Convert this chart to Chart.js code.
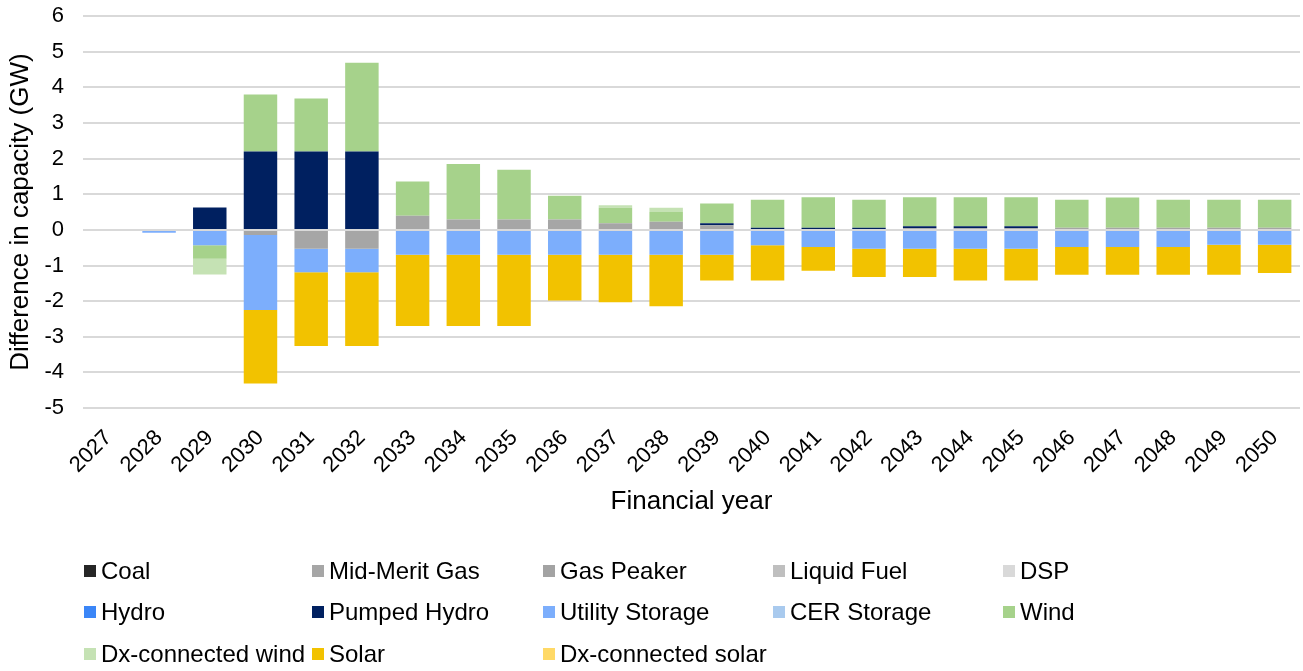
<!DOCTYPE html>
<html>
<head>
<meta charset="utf-8">
<script src="https://cdn.jsdelivr.net/npm/chart.js@4/dist/chart.umd.min.js"></script>
<style>
  body { margin: 0; background: #fff; font-family: "Liberation Sans", Arial, sans-serif; }
  #wrap { position: relative; width: 1303px; height: 671px; }
  #chart { position: absolute; left: 0; top: 0; }
  #legend {
    position: absolute; left: 84px; top: 550px;
    display: grid;
    grid-template-columns: 228px 231px 230px 230px 230px;
    grid-auto-rows: 41.5px;
  }
  .item { display: flex; align-items: center; font-size: 24px; color: #000; white-space: nowrap; }
  .box { width: 12px; height: 12px; margin-right: 5px; flex: none; }
</style>
</head>
<body>
<div id="wrap">
  <canvas id="chart" width="1303" height="671"></canvas>
  <div id="legend"></div>
</div>
<script>
// financial years
const years = ['2027','2028','2029','2030','2031','2032','2033','2034','2035','2036','2037','2038',
               '2039','2040','2041','2042','2043','2044','2045','2046','2047','2048','2049','2050'];

// difference in capacity (GW), one value per year
const coal          = [0,0,0,0,0,0,0,0,0,0,0,0,0,0,0,0,0,0,0,0,0,0,0,0];
const midMeritGas   = [0,0,0,-0.14,-0.53,-0.53,0.40,0.29,0.29,0.29,0.19,0.23,0.13,0,0,0,0.05,0.05,0.05,0.06,0.06,0.06,0.06,0.06];
const gasPeaker     = [0,0,0,0,0,0,0,0,0,0,0,0,0,0,0,0,0,0,0,0,0,0,0,0];
const liquidFuel    = [0,0,0,0,0,0,0,0,0,0,0,0,0,0,0,0,0,0,0,0,0,0,0,0];
const dsp           = [0,0,0,0,0,0,0,0,0,0,0,0,0,0,0,0,0,0,0,0,0,0,0,0];
const hydro         = [0,0,0,0,0,0,0,0,0,0,0,0,0,0,0,0,0,0,0,0,0,0,0,0];
const pumpedHydro   = [0,0,0.63,2.20,2.20,2.20,0,0,0,0,0,0,0.06,0.06,0.06,0.06,0.05,0.05,0.05,0,0,0,0,0];
const utilStorage   = [0,-0.08,-0.43,-2.11,-0.66,-0.66,-0.70,-0.70,-0.70,-0.70,-0.70,-0.70,-0.70,-0.43,-0.48,-0.53,-0.53,-0.53,-0.53,-0.48,-0.48,-0.48,-0.42,-0.42];
const cerStorage    = [0,0,0,0,0,0,0,0,0,0,0,0,0,0,0,0,0,0,0,0,0,0,0,0];
const wind          = [0,0,-0.38,1.60,1.49,2.49,0.96,1.56,1.40,0.67,0.43,0.27,0.55,0.79,0.86,0.79,0.82,0.82,0.82,0.79,0.85,0.79,0.79,0.79];
const dxWind        = [0,0,-0.44,0,0,0,0,0,0,0,0.07,0.12,0,0,0,0,0,0,0,0,0,0,0,0];
const solar         = [0,0,0,-2.06,-2.07,-2.07,-2.00,-2.00,-2.00,-1.28,-1.33,-1.44,-0.72,-0.99,-0.67,-0.79,-0.79,-0.89,-0.89,-0.78,-0.78,-0.78,-0.84,-0.79];
const dxSolar       = [0,0,0,0,0,0,0,0,0,0,0,0,0,0,0,0,0,0,0,0,0,0,0,0];

const seriesNames  = ['Coal','Mid-Merit Gas','Gas Peaker','Liquid Fuel','DSP','Hydro','Pumped Hydro',
                      'Utility Storage','CER Storage','Wind','Dx-connected wind','Solar','Dx-connected solar'];
const seriesData   = [coal, midMeritGas, gasPeaker, liquidFuel, dsp, hydro, pumpedHydro,
                      utilStorage, cerStorage, wind, dxWind, solar, dxSolar];
const seriesColors = ['#262626','#a6a6a6','#a3a3a3','#bfbfbf','#d9d9d9','#3b86f7','#002060',
                      '#7caefc','#a9caee','#a6d28b','#c5e2b4','#f2c200','#ffd966'];

const yTicks = [-5,-4,-3,-2,-1,0,1,2,3,4,5,6];

const font = 'Liberation Sans, Arial, sans-serif';

const ctx = document.getElementById('chart').getContext('2d');
const chart = new Chart(ctx, {
    type: 'bar',
    data: {
        labels: years,
        datasets: seriesNames.map((name, i) => ({
            label: name,
            data: seriesData[i],
            backgroundColor: seriesColors[i],
            borderWidth: 0,
            barPercentage: 0.66,
            categoryPercentage: 1
        }))
    },
    options: {
        responsive: false,
        animation: false,
        layout: { padding: { top: 1, right: 3, bottom: 141, left: 0 } },
        plugins: {
            legend: { display: false },
            tooltip: { enabled: false }
        },
        scales: {
            x: {
                stacked: true,
                grid: { display: false },
                border: { display: false },
                ticks: {
                    color: '#000',
                    font: { family: font, size: 22 },
                    minRotation: 45,
                    maxRotation: 45,
                    padding: 9
                },
                title: {
                    display: true,
                    text: 'Financial year',
                    color: '#000',
                    font: { family: font, size: 26 },
                    padding: { top: 0, bottom: 13 }
                },
                afterFit: scale => { scale.height = 122; }
            },
            y: {
                stacked: true,
                min: yTicks[0],
                max: yTicks[yTicks.length - 1],
                afterBuildTicks: scale => { scale.ticks = yTicks.map(v => ({ value: v })); },
                // invisible tick marks push the labels away from the plot
                grid: { color: '#d9d9d9', lineWidth: 2, drawTicks: true, tickLength: 16, tickColor: 'rgba(0,0,0,0)' },
                border: { display: false },
                ticks: {
                    color: '#000',
                    font: { family: font, size: 22 },
                    padding: 3
                },
                title: {
                    display: true,
                    text: 'Difference in capacity (GW)',
                    color: '#000',
                    font: { family: font, size: 26 },
                    padding: { top: 5, bottom: 0 }
                },
                afterFit: scale => { scale.width = 83; }
            }
        }
    }
});

// legend in a 5 column grid, built from the chart datasets
const legend = document.getElementById('legend');
chart.data.datasets.forEach(ds => {
    const item = document.createElement('div');
    item.className = 'item';
    item.innerHTML = '<span class="box" style="background:' + ds.backgroundColor + '"></span>' + ds.label;
    legend.appendChild(item);
});
</script>
</body>
</html>
